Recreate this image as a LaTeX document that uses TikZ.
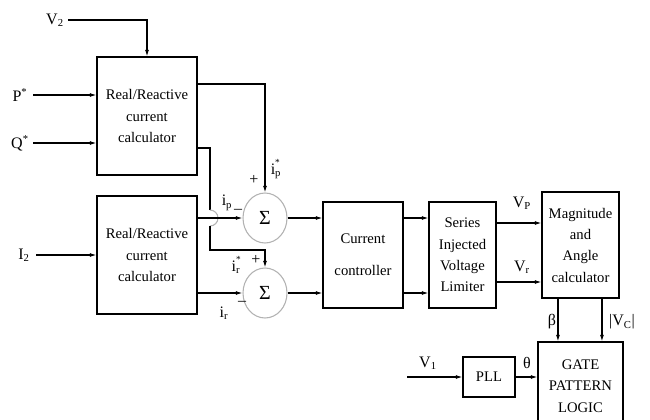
\documentclass[tikz,border=0pt]{standalone}
\usepackage{fontspec}
\setmainfont{Liberation Serif}
\usetikzlibrary{arrows.meta,shapes.geometric}
\newcommand\ssub[3]{#1\rlap{\raisebox{1.25ex}{\scriptsize #2}}\textsubscript{#3}}
\begin{document}
\begin{tikzpicture}[x=0.75pt,y=-0.75pt,
  every node/.style={font=\fontsize{11}{16}\selectfont},
  blk/.style={draw,line width=0.8pt,align=center,inner sep=1pt},
  sumnode/.style={ellipse,draw=black!30,line width=0.8pt,minimum width=33pt,minimum height=37.5pt,inner sep=0pt,font=\fontsize{15}{15}\selectfont},
  conn/.style={line width=0.8pt,-{Latex[length=5pt,width=3pt]}},
  wire/.style={line width=0.8pt},
  lbl/.style={font=\fontsize{12}{14}\selectfont,inner sep=0pt}]
\useasboundingbox (0,0) rectangle (650,419);
\clip (0,0) rectangle (650,419);
% blocks
\node[blk,minimum width=75pt,minimum height=88.5pt] (b1) at (147,116) {Real/Reactive\\current\\calculator};
\node[blk,minimum width=75pt,minimum height=88.5pt] (b2) at (147,255) {Real/Reactive\\current\\calculator};
\node[sumnode] (s1) at (265,218) {Σ};
\node[sumnode] (s2) at (265,293) {Σ};
\node[blk,minimum width=60pt,minimum height=79.5pt] (cc) at (363,255) {Current\\[8pt]controller};
\node[blk,minimum width=50.25pt,minimum height=79.5pt] (sv) at (462.5,255) {Series\\Injected\\Voltage\\Limiter};
\node[blk,minimum width=57.75pt,minimum height=79.5pt] (mag) at (580.5,245) {Magnitude\\and\\Angle\\calculator};
\node[blk,minimum width=63.75pt,minimum height=66pt,text depth=0pt] (gate) at (580.5,386) {GATE\\PATTERN\\LOGIC};
\node[blk,minimum width=39pt,minimum height=30pt] (pll) at (489,377) {PLL};
% free ends
\coordinate (v2in) at (68,20);
\coordinate (pin) at (33,95);
\coordinate (qin) at (33,143);
\coordinate (iin) at (36,255);
\coordinate (v1in) at (407,377);
\coordinate (hopTop) at (210,210);
% inputs
\draw[conn] (v2in) -| (b1.north);
\draw[conn] (pin) -- (pin -| b1.west);
\draw[conn] (qin) -- (qin -| b1.west);
\draw[conn] (iin) -- (b2.west);
% block1 outputs
\draw[conn] ([yshift=24pt]b1.east) -| (s1.north);
\draw[wire] ([yshift=-24pt]b1.east) -| (hopTop);
\draw[black!30,line width=0.8pt] (hopTop) arc[start angle=-90,end angle=90,radius=8];
\draw[conn] (210,226) -- (210,250) -| (s2.north);
% block2 outputs
\draw[conn] ([yshift=27.75pt]b2.east) -- (s1.west);
\draw[conn] ([yshift=-28.5pt]b2.east) -- (s2.west);
% sums to controller
\draw[conn] (s1.east) -- (s1.east -| cc.west);
\draw[conn] (s2.east) -- (s2.east -| cc.west);
\draw[conn] (cc.east |- s1.east) -- (sv.west |- s1.east);
\draw[conn] (cc.east |- s2.east) -- (sv.west |- s2.east);
% limiter to magnitude
\draw[conn] ([yshift=24pt]sv.east) -- ([yshift=24pt]sv.east -| mag.west);
\draw[conn] ([yshift=-20.25pt]sv.east) -- ([yshift=-20.25pt]sv.east -| mag.west);
% magnitude to gate
\draw[conn] ([xshift=-16.9pt]mag.south) -- ([xshift=-16.9pt]mag.south |- gate.north);
\draw[conn] ([xshift=16.1pt]mag.south) -- ([xshift=16.1pt]mag.south |- gate.north);
% pll
\draw[conn] (v1in) -- (pll.west);
\draw[conn] (pll.east) -- (pll.east -| gate.west);
% labels
\node[lbl] (lv2) at (55,20) {V\textsubscript{2}};
\node[lbl] (lp) at (20,95) {P\textsuperscript{*}};
\node[lbl] (lq) at (20,143) {Q\textsuperscript{*}};
\node[lbl] (li2) at (24,255) {I\textsubscript{2}};
\node[lbl] (lips) at (276,169) {\ssub{i}{*}{p}};
\node[lbl] (lpl1) at (254,180) {+};
\node[lbl] (lip) at (227,203) {i\textsubscript{p}};
\node[lbl] (lmi1) at (238,211) {–};
\node[lbl] (lirs) at (236,265) {\ssub{i}{*}{r}};
\node[lbl] (lpl2) at (256,260) {+};
\node[lbl] (lir) at (224,313) {i\textsubscript{r}};
\node[lbl] (lmi2) at (242,303) {–};
\node[lbl] (lvp) at (522,203) {V\textsubscript{P}};
\node[lbl] (lvr) at (522,267) {V\textsubscript{r}};
\node[lbl] (lb) at (552,322) {β};
\node[lbl] (lvc) at (622,322) {|V\textsubscript{C}|};
\node[lbl] (lv1) at (428,363) {V\textsubscript{1}};
\node[lbl] (lth) at (527,363) {θ};
\end{tikzpicture}
\end{document}
